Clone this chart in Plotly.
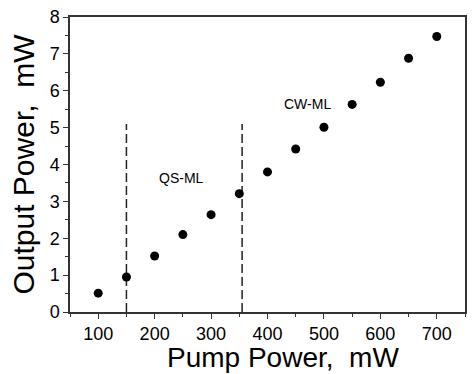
import plotly.graph_objects as go

pump = [100, 150, 200, 250, 300, 350, 400, 450, 500, 550, 600, 650, 700]
output = [0.51, 0.95, 1.52, 2.10, 2.64, 3.21, 3.80, 4.42, 5.01, 5.63, 6.23, 6.88, 7.47]

boundary_x = [150, 355]
boundary_top = 5.1
labels = ["QS-ML", "CW-ML"]
label_x = [247, 471]
label_y = [3.63, 5.65]

font = "Liberation Sans, Arial, sans-serif"
fig = go.Figure()
for bx in boundary_x:
    fig.add_trace(go.Scatter(x=[bx, bx], y=[0, boundary_top], mode="lines",
                             line=dict(color="#222", width=1.5, dash="9px,4px"),
                             showlegend=False, hoverinfo="skip"))
fig.add_trace(go.Scatter(x=pump, y=output, mode="markers",
                         marker=dict(color="black", size=9), showlegend=False))
for t, x, y in zip(labels, label_x, label_y):
    fig.add_annotation(x=x, y=y, text=t, showarrow=False,
                       font=dict(family=font, size=14, color="black"))

fig.add_annotation(xref="paper", yref="paper", x=0.539, y=-0.155, yanchor="middle",
                   text="Pump Power,\u00a0\u00a0mW", showarrow=False, borderpad=0,
                   font=dict(family=font, size=28, color="black"))

axis_common = dict(showline=True, linecolor="#333", linewidth=1.5, mirror=True,
                   ticks="outside", ticklen=5, tickwidth=1.2, tickcolor="#333",
                   showgrid=False, zeroline=False,
                   tickfont=dict(family=font, size=18, color="black"))
fig.update_xaxes(range=[50, 750], tickvals=[100, 200, 300, 400, 500, 600, 700],
                 minor=dict(ticks="outside", ticklen=3, tickcolor="#333", dtick=50, tick0=0),
                 **axis_common)
fig.update_yaxes(range=[0, 8], dtick=1,
                 minor=dict(ticks="outside", ticklen=3, tickcolor="#333", dtick=0.5, tick0=0),
                 title=dict(text="Output Power,\u00a0\u00a0mW", font=dict(family=font, size=30, color="black"), standoff=6),
                 **axis_common)
fig.update_layout(width=474, height=374, margin=dict(l=70, r=7, t=14, b=62),
                  plot_bgcolor="white", paper_bgcolor="white")
fig.write_html("out.html")
